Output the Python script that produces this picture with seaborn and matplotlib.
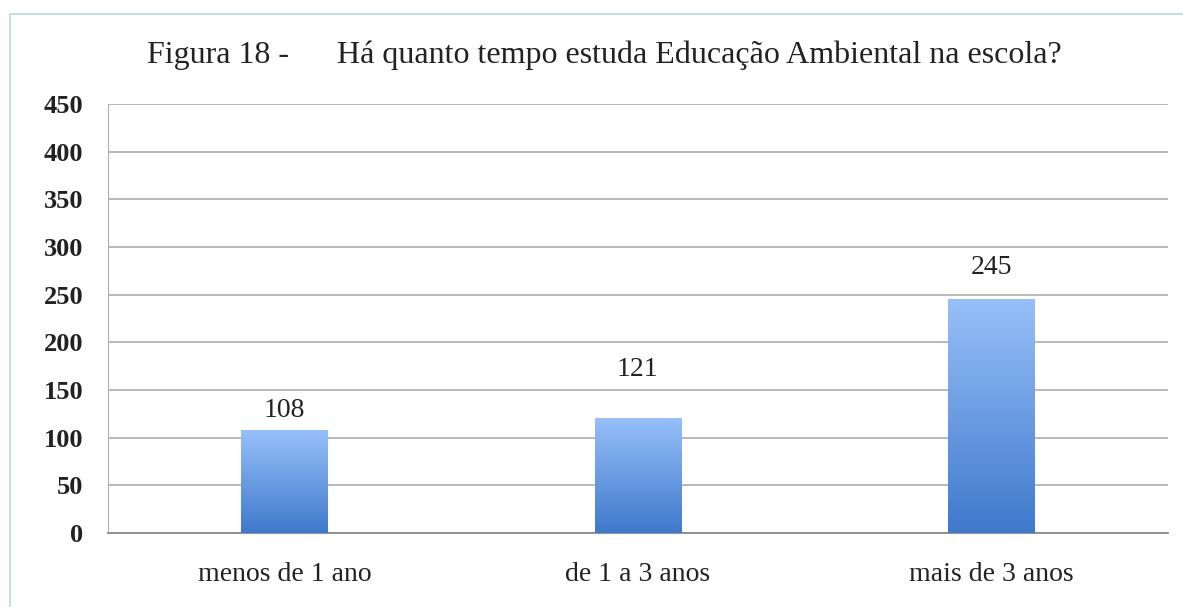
import numpy as np
import pandas as pd
import seaborn as sns
import matplotlib.pyplot as plt
from matplotlib.patches import Rectangle
from matplotlib.colors import LinearSegmentedColormap

# data
categorias = ["menos de 1 ano", "de 1 a 3 anos", "mais de 3 anos"]
valores = [108, 121, 245]
yticks = [0, 50, 100, 150, 200, 250, 300, 350, 400, 450]
titulo = "Figura 18 -      Há quanto tempo estuda Educação Ambiental na escola?"

# label lift above each bar (points), as placed in the original
deslocamento = [14, 35, 23]


def main():
    sns.set_style("white")
    plt.rcParams['font.family'] = ['Liberation Serif', 'DejaVu Serif']

    df = pd.DataFrame({"cat": categorias, "val": valores})

    fig = plt.figure(figsize=(11.83, 6.07), dpi=100)
    ax = fig.add_axes([0.0913, 0.1219, 0.8957, 0.7068])

    sns.barplot(data=df, x="cat", y="val", ax=ax, width=0.245,
                color="#6a9be0", saturation=1, edgecolor="none")

    # gradient fill, light on top, darker at the base
    cmap = LinearSegmentedColormap.from_list("azul", ["#3f79cc", "#97c0f9"])
    grad = np.linspace(0, 1, 256).reshape(-1, 1)
    for p, d in zip(ax.patches, deslocamento):
        x0, w, h = p.get_x(), p.get_width(), p.get_height()
        im = ax.imshow(grad, cmap=cmap, origin="lower", aspect="auto",
                       extent=[x0, x0 + w, 0, h], zorder=3)
        im.set_clip_path(p)
        p.set_alpha(0)
        ax.annotate(str(int(h)), (x0 + w / 2, h), xytext=(0, d),
                    textcoords="offset points", ha="center", va="center",
                    fontsize=20, color="#222222")

    ax.set_xlim(-0.5, 2.5)
    ax.set_ylim(0, 450)
    ax.set_yticks(yticks)
    ax.set_yticklabels([str(t) for t in yticks], fontsize=19, fontweight="bold",
                       color="#222222")
    ax.set_xticks(range(len(categorias)))
    ax.set_xticklabels(categorias, fontsize=20, color="#222222")
    ax.tick_params(axis="x", length=0, pad=21)
    ax.tick_params(axis="y", length=0, pad=18)
    ax.set_xlabel("")
    ax.set_ylabel("")

    ax.yaxis.grid(True, color="#a6a6a6", linewidth=1.1)
    ax.set_axisbelow(True)
    for s in ["top", "right"]:
        ax.spines[s].set_visible(False)
    ax.spines["left"].set_color("#b0b0b0")
    ax.spines["bottom"].set_color("#8a8a8a")
    ax.spines["bottom"].set_linewidth(1.3)

    fig.text(0.124, 0.909, titulo, fontsize=23, color="#222222",
             ha="left", va="center")

    # light blue frame around the chart
    fig.patches.append(Rectangle((0.0085, -0.02), 1.2, 0.997, transform=fig.transFigure,
                                 fill=False, edgecolor="#c5dbe4", linewidth=1.5))

    fig.savefig("out.png", dpi=100)


if __name__ == "__main__":
    main()
